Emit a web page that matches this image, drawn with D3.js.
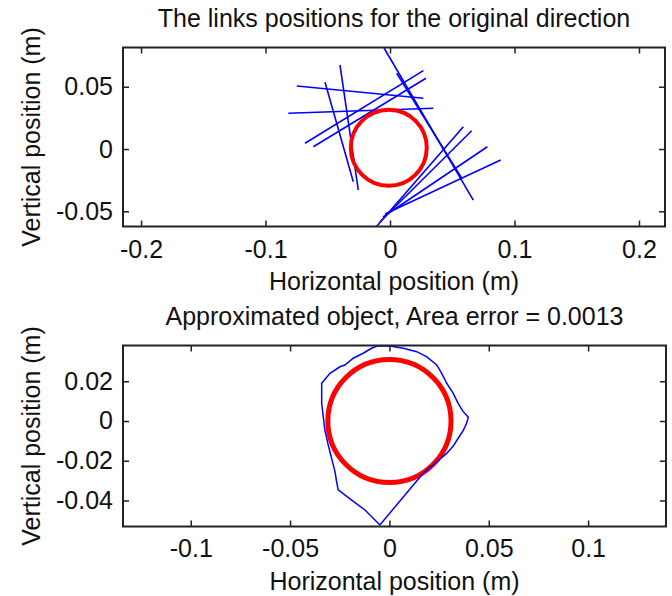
<!DOCTYPE html>
<html>
<head>
<meta charset="utf-8">
<script src="https://cdn.jsdelivr.net/npm/d3@7"></script>
<style>
  html, body { margin: 0; padding: 0; background: #fff; }
  svg { display: block; }
  text { font-family: "Liberation Sans", Arial, sans-serif; fill: #111; }
</style>
</head>
<body>
<svg id="chart" width="672" height="596"></svg>
<script>
// ---------- DATA ----------
// Top plot: link segments [x1, y1, x2, y2] (m)
const linkSegments = [
  [-0.0048, 0.0811, 0.0669, -0.0410],
  [0.0054, 0.0608, 0.0576, -0.0235],
  [-0.0749, 0.0506, 0.0268, 0.0407],
  [-0.0817, 0.0287, 0.0348, 0.0327],
  [-0.0402, 0.0675, -0.0255, -0.0329],
  [-0.0522, 0.0536, -0.0295, -0.0262],
  [-0.0683, 0.0046, 0.0268, 0.0629],
  [-0.0616, 0.0018, 0.0289, 0.0568],
  [-0.0120, -0.0635, 0.0589, 0.0179],
  [-0.0080, -0.0584, 0.0656, 0.0147],
  [-0.0056, -0.0546, 0.0782, 0.0018],
  [-0.0040, -0.0522, 0.0889, -0.0088]
];
// True object (circle): center x, center y, radius (m)
const objectTop = [-0.001, 0.001, 0.0305];
const objectBottom = [0.0, 0.0, 0.031];
// Bottom plot: approximated object outline [x, y] (m)
const approxOutline = [
  [-0.0061, 0.0377], [0.0003, 0.0377], [0.0070, 0.0366], [0.0137, 0.0349],
  [0.0187, 0.0324], [0.0238, 0.0282], [0.0263, 0.0240], [0.0288, 0.0190],
  [0.0321, 0.0139], [0.0346, 0.0089], [0.0371, 0.0047], [0.0397, 0.0019],
  [0.0388, -0.0012], [0.0371, -0.0049], [0.0346, -0.0087], [0.0321, -0.0126],
  [0.0288, -0.0163], [0.0238, -0.0205], [0.0170, -0.0263], [-0.0048, -0.0523],
  [-0.0123, -0.0448], [-0.0190, -0.0398], [-0.0258, -0.0347], [-0.0266, -0.0305],
  [-0.0274, -0.0255], [-0.0291, -0.0188], [-0.0308, -0.0121], [-0.0325, -0.0045],
  [-0.0333, 0.0022], [-0.0341, 0.0089], [-0.0341, 0.0190], [-0.0299, 0.0240],
  [-0.0249, 0.0273], [-0.0224, 0.0282], [-0.0182, 0.0316], [-0.0132, 0.0341],
  [-0.0090, 0.0366]
];
// Axis limits
const topXLim = [-0.2145, 0.2209];
const topYLim = [-0.0622, 0.0815];
const botXLim = [-0.1341, 0.1392];
const botYLim = [-0.0531, 0.0380];
// Ticks
const topXTicks = [-0.2, -0.1, 0, 0.1, 0.2];
const topXTickLabels = ["-0.2", "-0.1", "0", "0.1", "0.2"];
const topYTicks = [-0.05, 0, 0.05];
const topYTickLabels = ["-0.05", "0", "0.05"];
const botXTicks = [-0.1, -0.05, 0, 0.05, 0.1];
const botXTickLabels = ["-0.1", "-0.05", "0", "0.05", "0.1"];
const botYTicks = [-0.04, -0.02, 0, 0.02];
const botYTickLabels = ["-0.04", "-0.02", "0", "0.02"];
// Texts
const titles = ["The links positions for the original direction", "Approximated object, Area error = 0.0013"];
const xLabel = "Horizontal position (m)";
const yLabel = "Vertical position (m)";

// ---------- DRAW ----------
const svg = d3.select("#chart");
const FS = 25;

function panel(opts) {
  const {box, xLim, yLim, xTicks, xLabels, yTicks, yLabels, title, id} = opts;
  const x = d3.scaleLinear().domain(xLim).range([box.l, box.r]);
  const y = d3.scaleLinear().domain(yLim).range([box.b, box.t]);
  const g = svg.append("g");

  g.append("clipPath").attr("id", id).append("rect")
    .attr("x", box.l).attr("y", box.t).attr("width", box.r - box.l).attr("height", box.b - box.t);

  const plot = g.append("g").attr("clip-path", `url(#${id})`);

  const fmtX = d => xLabels[xTicks.indexOf(d)];
  const fmtY = d => yLabels[yTicks.indexOf(d)];

  const ax = (axisFn, scale, ticks, fmt, tr, pad) => {
    const a = axisFn(scale).tickValues(ticks).tickSizeInner(-6).tickSizeOuter(0).tickPadding(pad);
    a.tickFormat(fmt || (() => ""));
    const s = g.append("g").attr("transform", tr).call(a);
    s.select(".domain").remove();
    s.selectAll(".tick line").attr("stroke", "#222").attr("stroke-width", 1.5);
    s.selectAll("text").style("font-size", FS + "px").attr("fill", "#111")
      .style("font-family", '"Liberation Sans", Arial, sans-serif');
    return s;
  };
  ax(d3.axisBottom, x, xTicks, fmtX, `translate(0,${box.b})`, opts.xPad);
  ax(d3.axisTop, x, xTicks, null, `translate(0,${box.t})`, 0);
  ax(d3.axisLeft, y, yTicks, fmtY, `translate(${box.l},0)`, 10);
  ax(d3.axisRight, y, yTicks, null, `translate(${box.r},0)`, 0);

  g.append("rect")
    .attr("x", box.l).attr("y", box.t)
    .attr("width", box.r - box.l).attr("height", box.b - box.t)
    .attr("fill", "none").attr("stroke", "#222").attr("stroke-width", 2);

  const cx = (box.l + box.r) / 2;
  g.append("text").attr("x", cx).attr("y", opts.titleY)
    .attr("text-anchor", "middle").style("font-size", FS + "px").text(title);
  g.append("text").attr("x", cx).attr("y", opts.xLabelY)
    .attr("text-anchor", "middle").style("font-size", FS + "px").text(xLabel);
  g.append("text")
    .attr("transform", `translate(40,${(box.t + box.b) / 2}) rotate(-90)`)
    .attr("text-anchor", "middle").style("font-size", FS + "px").text(yLabel);

  return {x, y, plot};
}

// Top panel
const P1 = panel({
  id: "clipTop",
  box: {l: 123, r: 665, t: 47.5, b: 226.5},
  xLim: topXLim, yLim: topYLim,
  xTicks: topXTicks, xLabels: topXTickLabels,
  yTicks: topYTicks, yLabels: topYTickLabels,
  title: titles[0], titleY: 27, xLabelY: 290, xPad: 14
});
P1.plot.selectAll("line.link").data(linkSegments).join("line")
  .attr("class", "link")
  .attr("x1", d => P1.x(d[0])).attr("y1", d => P1.y(d[1]))
  .attr("x2", d => P1.x(d[2])).attr("y2", d => P1.y(d[3]))
  .attr("stroke", "#0000ff").attr("stroke-width", 1.6);
P1.plot.append("ellipse")
  .attr("cx", P1.x(objectTop[0])).attr("cy", P1.y(objectTop[1]))
  .attr("rx", P1.x(objectTop[2]) - P1.x(0))
  .attr("ry", P1.y(0) - P1.y(objectTop[2]))
  .attr("fill", "none").attr("stroke", "#ff0000").attr("stroke-width", 4);

// Bottom panel
const P2 = panel({
  id: "clipBot",
  box: {l: 123, r: 666, t: 345.5, b: 526.5},
  xLim: botXLim, yLim: botYLim,
  xTicks: botXTicks, xLabels: botXTickLabels,
  yTicks: botYTicks, yLabels: botYTickLabels,
  title: titles[1], titleY: 325, xLabelY: 590, xPad: 13
});
P2.plot.append("ellipse")
  .attr("cx", P2.x(objectBottom[0])).attr("cy", P2.y(objectBottom[1]))
  .attr("rx", P2.x(objectBottom[2]) - P2.x(0))
  .attr("ry", P2.y(0) - P2.y(objectBottom[2]))
  .attr("fill", "none").attr("stroke", "#ff0000").attr("stroke-width", 5);
P2.plot.append("path")
  .datum(approxOutline)
  .attr("d", d3.line().x(d => P2.x(d[0])).y(d => P2.y(d[1])).curve(d3.curveLinearClosed))
  .attr("fill", "none").attr("stroke", "#0000ff").attr("stroke-width", 1.5);
</script>
</body>
</html>
